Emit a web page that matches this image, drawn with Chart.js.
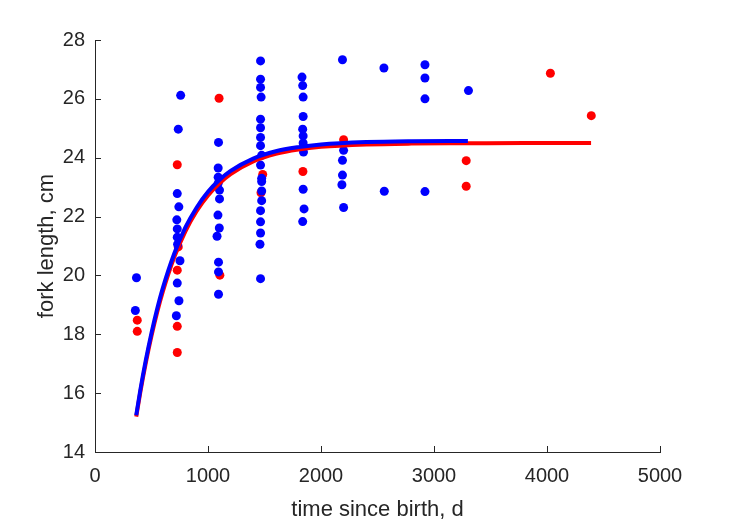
<!DOCTYPE html>
<html>
<head>
<meta charset="utf-8">
<script src="https://cdn.jsdelivr.net/npm/chart.js@4"></script>
<style>
  body { margin: 0; background: #fff; }
  canvas { display: block; }
</style>
</head>
<body>
<canvas id="growthChart" width="729" height="521"></canvas>
<script>
// observed fish, blue group
const blueAge = [367, 357,
  758, 737, 728, 742, 724, 728, 728, 731, 752, 728, 743, 720,
  1093, 1090, 1090, 1090, 1102, 1102, 1088, 1100, 1080, 1093, 1093, 1093,
  1465, 1465, 1465, 1470, 1465, 1465, 1465, 1465, 1475, 1465, 1475, 1475, 1475, 1475, 1465, 1465, 1465, 1460, 1465,
  1832, 1838, 1842, 1842, 1838, 1842, 1842, 1845, 1842, 1850, 1838,
  2190, 2200, 2190, 2190, 2185, 2200,
  2557, 2560,
  2920, 2920, 2920, 2920,
  3305];
const blueLength = [19.92, 18.81,
  26.12, 24.97, 22.78, 22.33, 21.89, 21.58, 21.30, 21.06, 20.50, 19.74, 19.14, 18.63,
  24.52, 23.65, 23.34, 23.13, 22.90, 22.60, 22.05, 21.61, 21.33, 20.45, 20.12, 19.36,
  27.29, 26.67, 26.39, 26.06, 25.31, 25.02, 24.69, 24.41, 24.08, 23.75, 23.30, 23.19, 22.87, 22.54, 22.20, 21.82, 21.44, 21.06, 19.89,
  26.74, 26.45, 26.06, 25.40, 24.97, 24.74, 24.50, 24.19, 22.93, 22.26, 21.83,
  27.33, 24.25, 23.91, 23.41, 23.08, 22.31,
  27.05, 22.86,
  27.16, 26.71, 26.00, 22.85,
  26.28];

// observed fish, red group
const redAge = [374, 374,
  728, 737, 728, 728, 728,
  1098, 1105,
  1484, 1469,
  1840,
  2200,
  3285, 3285,
  4030, 4392];
const redLength = [18.48, 18.10,
  23.76, 20.97, 20.18, 18.27, 17.38,
  26.02, 20.01,
  23.43, 22.81,
  23.53,
  24.61,
  23.90, 23.03,
  26.87, 25.43];

// fitted growth curves
const blueFitAge = [365, 400, 450, 500, 550, 600, 700, 800, 900, 1000, 1100, 1200, 1400, 1600, 1800, 2000, 2400, 2800, 3300];
const blueFitLength = [15.25, 16.08, 17.13, 18.05, 18.86, 19.57, 20.73, 21.63, 22.31, 22.84, 23.24, 23.55, 23.97, 24.22, 24.36, 24.45, 24.53, 24.56, 24.57];
const redFitAge = [365, 400, 450, 500, 550, 600, 700, 800, 900, 1000, 1100, 1200, 1400, 1600, 1800, 2000, 2400, 2800, 3300, 3800, 4390];
const redFitLength = [15.2, 16.01, 17.04, 17.95, 18.75, 19.45, 20.61, 21.5, 22.19, 22.72, 23.12, 23.44, 23.87, 24.13, 24.28, 24.37, 24.45, 24.48, 24.49, 24.5, 24.5];

const xTicks = [0, 1000, 2000, 3000, 4000, 5000];
const yTicks = [14, 16, 18, 20, 22, 24, 26, 28];

const toPoints = (xs, ys) => xs.map((x, i) => ({ x: x, y: ys[i] }));

const axisColor = '#262626';
const fontFamily = '"Liberation Sans", Arial, Helvetica, sans-serif';

// MATLAB style ticks pointing into the plot
const inwardTicks = {
    id: 'inwardTicks',
    afterDraw(chart) {
        const ctx = chart.ctx;
        const xs = chart.scales.x;
        const ys = chart.scales.y;
        const len = 6;
        ctx.save();
        ctx.strokeStyle = axisColor;
        ctx.lineWidth = 1;
        ctx.beginPath();
        xTicks.forEach(v => {
            const px = Math.round(xs.getPixelForValue(v)) + 0.5;
            ctx.moveTo(px, ys.bottom);
            ctx.lineTo(px, ys.bottom - len);
        });
        yTicks.forEach(v => {
            const py = Math.round(ys.getPixelForValue(v)) + 0.5;
            ctx.moveTo(xs.left, py);
            ctx.lineTo(xs.left + len, py);
        });
        ctx.stroke();
        ctx.restore();
    }
};

const ctx = document.getElementById('growthChart').getContext('2d');
new Chart(ctx, {
    type: 'scatter',
    data: {
        datasets: [
            {
                label: 'blue fit',
                data: toPoints(blueFitAge, blueFitLength),
                showLine: true,
                borderColor: '#0000ff',
                borderWidth: 4,
                borderCapStyle: 'butt',
                cubicInterpolationMode: 'monotone',
                pointRadius: 0
            },
            {
                label: 'red fit',
                data: toPoints(redFitAge, redFitLength),
                showLine: true,
                borderColor: '#ff0000',
                borderWidth: 4,
                borderCapStyle: 'butt',
                cubicInterpolationMode: 'monotone',
                pointRadius: 0
            },
            {
                label: 'blue',
                data: toPoints(blueAge, blueLength),
                backgroundColor: '#0000ff',
                borderWidth: 0,
                pointRadius: 4.5
            },
            {
                label: 'red',
                data: toPoints(redAge, redLength),
                backgroundColor: '#ff0000',
                borderWidth: 0,
                pointRadius: 4.5
            }
        ]
    },
    options: {
        responsive: false,
        animation: false,
        events: [],
        layout: { padding: { top: 40, right: 69, left: 0, bottom: 0 } },
        plugins: {
            legend: { display: false },
            tooltip: { enabled: false }
        },
        scales: {
            x: {
                type: 'linear',
                min: 0,
                max: 5000,
                grid: { display: false, drawTicks: false },
                border: { display: true, color: axisColor, width: 1 },
                ticks: {
                    stepSize: 1000,
                    padding: 12,
                    color: axisColor,
                    font: { family: fontFamily, size: 20 },
                    callback: value => String(value)
                },
                title: {
                    display: true,
                    text: 'time since birth, d',
                    color: axisColor,
                    font: { family: fontFamily, size: 22, lineHeight: 1 },
                    padding: { top: 0, bottom: 0 }
                },
                afterFit(scale) { scale.height = 69; }
            },
            y: {
                type: 'linear',
                min: 14,
                max: 28,
                grid: { display: false, drawTicks: false },
                border: { display: true, color: axisColor, width: 1 },
                ticks: {
                    stepSize: 2,
                    padding: 10,
                    color: axisColor,
                    font: { family: fontFamily, size: 20 },
                    callback: value => String(value)
                },
                title: {
                    display: true,
                    text: 'fork length, cm',
                    color: axisColor,
                    font: { family: fontFamily, size: 22, lineHeight: 1 },
                    padding: { top: 36, bottom: 0 }
                },
                afterFit(scale) { scale.width = 95; }
            }
        }
    },
    plugins: [inwardTicks]
});
</script>
</body>
</html>
